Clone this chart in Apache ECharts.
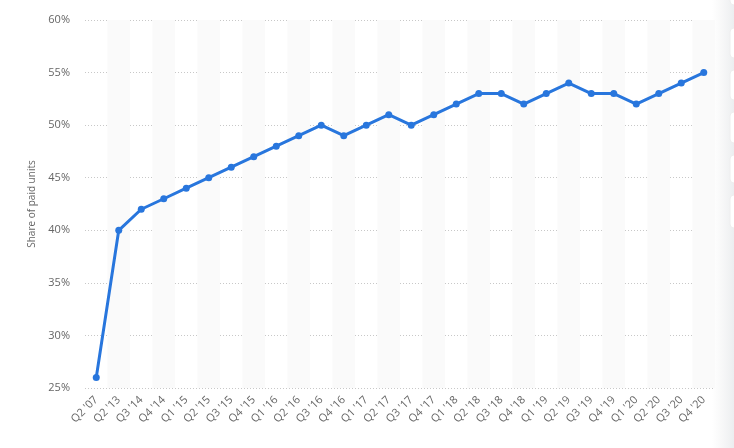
<!DOCTYPE html>
<html>
<head>
<meta charset="utf-8">
<script src="https://cdn.jsdelivr.net/npm/echarts@6/dist/echarts.min.js"></script>
<style>html,body{margin:0;padding:0;background:#fff;}#c{width:734px;height:448px;}</style>
</head>
<body>
<div id="c"></div>
<script>
const categories = ["Q2 '07","Q2 '13","Q3 '14","Q4 '14","Q1 '15","Q2 '15","Q3 '15","Q4 '15","Q1 '16","Q2 '16","Q3 '16","Q4 '16","Q1 '17","Q2 '17","Q3 '17","Q4 '17","Q1 '18","Q2 '18","Q3 '18","Q4 '18","Q1 '19","Q2 '19","Q3 '19","Q4 '19","Q1 '20","Q2 '20","Q3 '20","Q4 '20"];
const paidShare = [26,40,42,43,44,45,46,47,48,49,50,49,50,51,50,51,52,53,53,52,53,54,53,53,52,53,54,55];
const yMin = 25, yMax = 60, yStep = 5;

const chart = echarts.init(document.getElementById('c'), null, {renderer: 'canvas'});
chart.setOption({
  animation: false,
  backgroundColor: '#fff',
  grid: {left: 85, right: 19, top: 20, bottom: 60, containLabel: false},
  graphic: [
    {type: 'rect', shape: {x: 712, y: 0, width: 22, height: 448},
     style: {fill: new echarts.graphic.LinearGradient(0,0,1,0,[{offset:0,color:'rgba(240,240,240,0)'},{offset:1,color:'rgba(236,238,240,1)'}])}, silent: true, z: -1},
    {type: 'rect', shape: {x: 730, y: -5, width: 20, height: 10, r: 4}, style: {fill: '#fff', stroke: '#eee'}, silent: true},
    {type: 'rect', shape: {x: 730, y: 28, width: 20, height: 30, r: 4}, style: {fill: '#fff', stroke: '#eee'}, silent: true},
    {type: 'rect', shape: {x: 730, y: 70, width: 20, height: 30, r: 4}, style: {fill: '#fff', stroke: '#eee'}, silent: true},
    {type: 'rect', shape: {x: 730, y: 112, width: 20, height: 31, r: 4}, style: {fill: '#fff', stroke: '#eee'}, silent: true},
    {type: 'rect', shape: {x: 730, y: 155, width: 20, height: 28, r: 4}, style: {fill: '#fff', stroke: '#eee'}, silent: true},
    {type: 'rect', shape: {x: 730, y: 195, width: 20, height: 33, r: 4}, style: {fill: '#fff', stroke: '#eee'}, silent: true}
  ],
  xAxis: {
    type: 'category',
    data: categories,
    boundaryGap: true,
    axisLine: {show: false},
    axisTick: {show: false},
    axisLabel: {rotate: 45, color: '#666', fontSize: 11, fontFamily: 'Open Sans', interval: 0, margin: 10},
    splitArea: {show: true, interval: 0, areaStyle: {color: ['rgba(255,255,255,0)', '#fafafa']}}
  },
  yAxis: {
    type: 'value',
    min: yMin, max: yMax, interval: yStep,
    name: 'Share of paid units',
    nameLocation: 'middle',
    nameGap: 47,
    nameTextStyle: {color: '#666', fontSize: 10, fontFamily: 'Open Sans'},
    axisLine: {show: false},
    axisTick: {show: false},
    axisLabel: {formatter: '{value}%', color: '#666', fontSize: 11, fontFamily: 'Open Sans', margin: 15},
    splitLine: {lineStyle: {color: '#c8c8c8', type: [1, 2], width: 1}}
  },
  series: [{
    type: 'line',
    data: paidShare,
    symbol: 'circle',
    symbolSize: 7,
    lineStyle: {color: '#2876dd', width: 3},
    itemStyle: {color: '#2876dd'},
    z: 5
  }]
});
</script>
</body>
</html>
